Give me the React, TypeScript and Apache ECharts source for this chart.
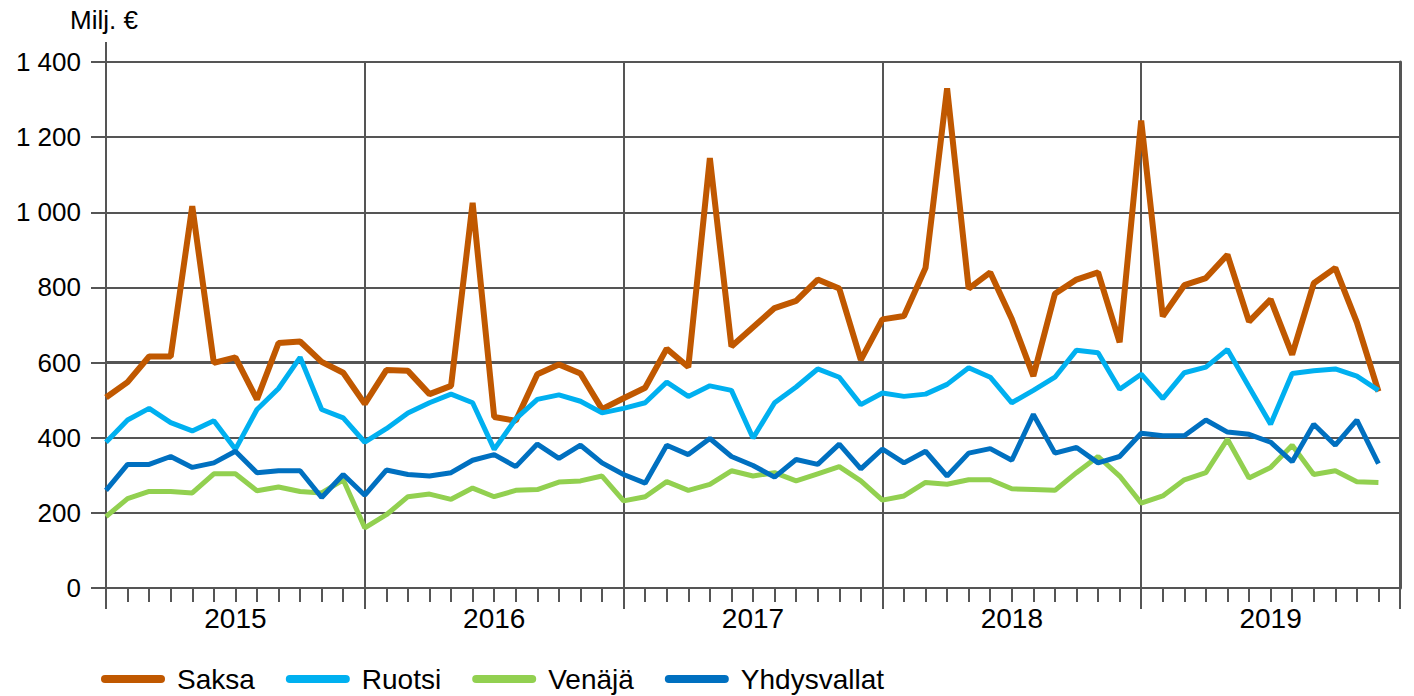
import React, { useEffect, useRef } from "react";
import * as echarts from "echarts";

const years = ["2015", "2016", "2017", "2018", "2019"];
const yTicks = [0, 200, 400, 600, 800, 1000, 1200, 1400];
const yTickLabels = ["0", "200", "400", "600", "800", "1 000", "1 200", "1 400"];
const seriesNames = ["Saksa", "Ruotsi", "Venäjä", "Yhdysvallat"];

const saksa = [
  507, 548, 616, 616, 1016, 599, 614, 502, 652, 656, 602, 573,
  490, 580, 578, 516, 538, 1025, 455, 445, 569, 595, 571, 476,
  505, 533, 637, 588, 1144, 643, 694, 745, 764, 821, 797, 607,
  715, 724, 852, 1330, 797, 840, 716, 564, 783, 821, 840, 654,
  1244, 723, 806, 825, 887, 709, 768, 621, 811, 852, 707, 523,
];
const ruotsi = [
  388, 447, 478, 440, 418, 445, 369, 475, 531, 614, 475, 453,
  388, 424, 466, 493, 516, 493, 369, 450, 502, 514, 497, 466,
  478, 493, 548, 510, 538, 526, 399, 493, 535, 583, 561, 488,
  519, 510, 516, 542, 586, 561, 493, 526, 561, 633, 626, 529,
  569, 504, 573, 588, 635, 535, 436, 571, 578, 583, 564, 526,
];
const venaja = [
  190, 238, 257, 257, 253, 304, 304, 259, 269, 257, 253, 288,
  160, 195, 243, 250, 236, 266, 243, 260, 262, 282, 285, 298,
  232, 243, 283, 260, 276, 312, 298, 307, 285, 304, 323, 285,
  234, 245, 281, 276, 288, 288, 264, 262, 260, 307, 350, 298,
  226, 245, 288, 307, 396, 293, 321, 380, 302, 312, 283, 281,
];
const yhdysvallat = [
  260, 329, 329, 350, 321, 333, 364, 307, 312, 312, 241, 302,
  247, 314, 302, 298, 307, 340, 355, 323, 383, 345, 380, 333,
  302, 279, 380, 355, 398, 350, 326, 295, 342, 329, 383, 317,
  370, 333, 364, 298, 359, 371, 340, 462, 359, 374, 333, 350,
  412, 405, 405, 447, 415, 409, 388, 336, 436, 380, 447, 331,
];
const highlightGridValue = 600;

const colors = ["#C05800", "#00B0F0", "#92D050", "#0070C0"];
const widths = [6, 5, 5, 5];
const AX = "#555555";
const FONT = "'Liberation Sans', Arial, sans-serif";

export default function App() {
  const ref = useRef<HTMLDivElement>(null);
  useEffect(() => {
    if (!ref.current) return;
    const chart = echarts.init(ref.current, undefined, { renderer: "svg" });
    const monthsCount = years.length * 12;
    const all = [saksa, ruotsi, venaja, yhdysvallat];
    const option: any = {
      animation: false,
      backgroundColor: "#ffffff",
      textStyle: { fontFamily: FONT },
      grid: { left: 106, right: 14, top: 62, bottom: 108, containLabel: false },
      legend: {
        data: seriesNames,
        left: 101,
        top: 665,
        padding: 0,
        itemWidth: 64,
        itemHeight: 8,
        itemGap: 31,
        icon: "path://M4,0 H60 A4,4 0 0 1 60,8 H4 A4,4 0 0 1 4,0 Z",
        textStyle: { fontSize: 28, color: "#000", fontFamily: FONT, padding: [0, 0, 0, 7] },
      },
      xAxis: [
        {
          type: "value",
          min: 0,
          max: monthsCount,
          interval: 1,
          position: "bottom",
          axisLine: { show: true, lineStyle: { color: AX, width: 2 } },
          axisTick: { show: true, length: 14, lineStyle: { color: AX, width: 2 } },
          axisLabel: { show: false },
          splitLine: { show: false },
        },
        {
          type: "category",
          data: years,
          position: "bottom",
          offset: 0,
          boundaryGap: true,
          axisLine: { show: false },
          axisTick: { show: true, length: 21, interval: 0, lineStyle: { color: AX, width: 2 } },
          axisLabel: { show: true, fontSize: 28, color: "#000", margin: 16, fontFamily: FONT, interval: 0 },
          splitLine: { show: true, interval: 0, lineStyle: { color: AX, width: 2 } },
        },
      ],
      yAxis: [
        {
          type: "value",
          min: 0,
          max: 1400,
          interval: 200,
          axisLine: { show: true, lineStyle: { color: AX, width: 2 } },
          axisTick: { show: true, length: 15, lineStyle: { color: AX, width: 2 } },
          axisLabel: {
            fontSize: 26,
            color: "#000",
            margin: 25,
            fontFamily: FONT,
            formatter: (v: number) => {
              const i = yTicks.indexOf(v);
              return i >= 0 ? yTickLabels[i] : "";
            },
          },
          splitLine: { show: true, lineStyle: { color: AX, width: 2 } },
        },
        {
          type: "value",
          min: 0,
          max: 1400,
          interval: 200,
          position: "right",
          axisLine: { show: true, lineStyle: { color: AX, width: 3 } },
          axisTick: { show: false },
          axisLabel: { show: false },
          splitLine: { show: false },
        },
      ],
      graphic: [
        {
          type: "line",
          shape: { x1: 106, y1: 42, x2: 106, y2: 62 },
          style: { stroke: AX, lineWidth: 2 },
        },
        {
          type: "text",
          left: 70,
          top: 7,
          style: { text: "Milj. €", fontSize: 26, fill: "#000", fontFamily: FONT },
        },
      ],
      series: [
        {
          name: "_grid600",
          type: "line",
          xAxisIndex: 0,
          yAxisIndex: 0,
          symbol: "none",
          silent: true,
          z: 1,
          lineStyle: { color: AX, width: 3 },
          data: [
            [0, highlightGridValue],
            [monthsCount, highlightGridValue],
          ],
        },
        ...all.map((arr, k) => ({
          name: seriesNames[k],
          type: "line",
          xAxisIndex: 0,
          yAxisIndex: 0,
          symbol: "none",
          z: 2 + k,
          color: colors[k],
          lineStyle: { color: colors[k], width: widths[k] },
          itemStyle: { color: colors[k] },
          data: arr.map((v, i) => [i, v]),
        })),
      ],
    };
    chart.setOption(option);
    return () => chart.dispose();
  }, []);
  return <div ref={ref} style={{ width: 1414, height: 696, position: "absolute", left: 0, top: 0 }} />;
}
